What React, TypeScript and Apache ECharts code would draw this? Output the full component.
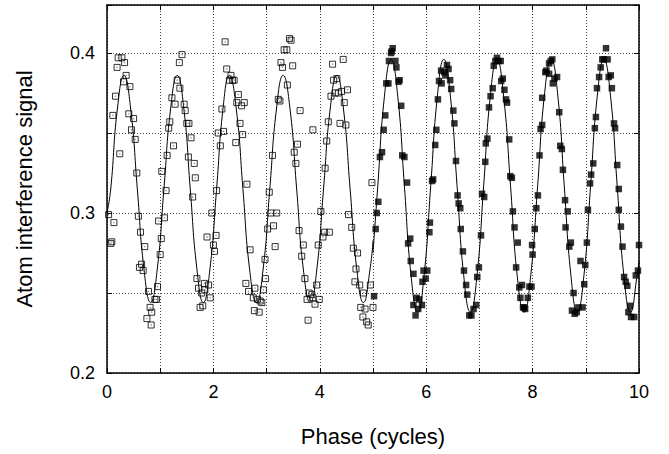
import React, { useEffect, useRef } from "react";
import * as echarts from "echarts";

// Axis settings / tick labels
const xTickLabels = [0, 2, 4, 6, 8, 10];
const yTickLabels = [0.2, 0.3, 0.4];

// Open squares: phase 0..5 (measured)
const openPoints: [number, number][] = [
  [0.03, 0.299], [0.13, 0.294], [0.07, 0.281], [0.09, 0.282],
  [0.11, 0.361], [0.16, 0.373], [0.19, 0.391], [0.21, 0.397], [0.24, 0.337], [0.28, 0.397], [0.31, 0.382], [0.33, 0.394], [0.36, 0.386], [0.41, 0.362], [0.43, 0.379], [0.46, 0.352], [0.5, 0.359], [0.53, 0.346], [0.56, 0.325],
  [0.59, 0.298], [0.61, 0.266], [0.63, 0.288], [0.65, 0.268], [0.68, 0.264], [0.71, 0.279], [0.75, 0.234], [0.78, 0.251], [0.81, 0.241], [0.83, 0.23], [0.84, 0.238], [0.9, 0.246], [0.93, 0.246], [0.95, 0.254], [0.97, 0.295], [1.0, 0.274], [1.02, 0.284], [1.08, 0.297],
  [1.03, 0.326], [1.11, 0.314], [1.13, 0.336], [1.16, 0.353], [1.18, 0.357], [1.22, 0.372], [1.25, 0.342], [1.28, 0.368], [1.32, 0.383], [1.36, 0.394], [1.37, 0.378], [1.41, 0.399], [1.45, 0.368], [1.47, 0.364], [1.5, 0.356], [1.53, 0.335], [1.54, 0.356], [1.58, 0.347], [1.61, 0.31], [1.64, 0.331], [1.66, 0.322],
  [1.69, 0.259], [1.72, 0.253], [1.75, 0.241], [1.78, 0.25], [1.8, 0.242], [1.83, 0.256], [1.84, 0.252], [1.88, 0.285], [1.91, 0.255], [1.94, 0.247], [1.97, 0.3], [2.0, 0.28], [2.02, 0.276], [2.05, 0.286],
  [2.06, 0.314], [2.09, 0.35], [2.13, 0.342], [2.16, 0.365], [2.19, 0.351], [2.22, 0.407], [2.25, 0.39], [2.3, 0.383], [2.33, 0.386], [2.36, 0.383], [2.39, 0.383], [2.42, 0.344], [2.44, 0.369], [2.47, 0.374], [2.5, 0.356], [2.53, 0.367], [2.55, 0.349], [2.58, 0.369], [2.63, 0.318],
  [2.61, 0.256], [2.66, 0.251], [2.69, 0.277], [2.75, 0.247], [2.77, 0.239], [2.78, 0.253], [2.83, 0.246], [2.86, 0.238], [2.88, 0.245], [2.91, 0.244], [2.94, 0.252], [2.97, 0.271], [2.98, 0.259], [3.02, 0.29], [3.08, 0.3], [3.13, 0.292], [3.16, 0.279], [3.19, 0.3],
  [3.05, 0.313], [3.11, 0.336], [3.22, 0.371], [3.25, 0.37], [3.27, 0.394], [3.3, 0.391], [3.33, 0.402], [3.38, 0.402], [3.39, 0.38], [3.43, 0.409], [3.46, 0.408], [3.49, 0.392], [3.52, 0.338], [3.55, 0.331], [3.58, 0.343], [3.63, 0.364], [3.87, 0.352],
  [3.61, 0.289], [3.66, 0.273], [3.69, 0.28], [3.72, 0.259], [3.76, 0.246], [3.78, 0.233], [3.8, 0.25], [3.85, 0.249], [3.87, 0.247], [3.91, 0.243], [3.94, 0.255], [3.97, 0.28], [3.99, 0.246], [4.02, 0.301], [4.06, 0.285], [4.09, 0.288], [4.18, 0.288],
  [4.1, 0.328], [4.13, 0.345], [4.16, 0.357], [4.21, 0.373], [4.24, 0.393], [4.26, 0.383], [4.29, 0.375], [4.32, 0.384], [4.35, 0.375], [4.38, 0.356], [4.41, 0.376], [4.44, 0.396], [4.46, 0.369], [4.49, 0.355], [4.52, 0.377], [4.98, 0.319],
  [4.54, 0.299], [4.6, 0.291], [4.63, 0.278], [4.66, 0.257], [4.68, 0.265], [4.71, 0.275], [4.75, 0.255], [4.77, 0.241], [4.81, 0.235], [4.82, 0.25], [4.85, 0.24], [4.88, 0.232], [4.91, 0.23], [4.95, 0.255], [5.0, 0.241],
];

// Filled squares: phase 5..10 (measured)
const filledPoints: [number, number][] = [
  [5.02, 0.248], [5.05, 0.29], [5.07, 0.3], [5.1, 0.307], [5.13, 0.335], [5.17, 0.338], [5.2, 0.352], [5.23, 0.361], [5.25, 0.381], [5.29, 0.381], [5.3, 0.395], [5.34, 0.4], [5.35, 0.401], [5.37, 0.403], [5.42, 0.395], [5.44, 0.391], [5.48, 0.382], [5.5, 0.383], [5.53, 0.367], [5.55, 0.336], [5.59, 0.335], [5.64, 0.319],
  [5.66, 0.281], [5.7, 0.284], [5.71, 0.27], [5.76, 0.262], [5.76, 0.2425], [5.8, 0.236], [5.82, 0.247], [5.85, 0.24], [5.87, 0.246], [5.92, 0.2425], [5.93, 0.257], [5.95, 0.264], [5.99, 0.259], [6.02, 0.264], [6.06, 0.288], [6.07, 0.294],
  [6.11, 0.32], [6.13, 0.321], [6.17, 0.3425], [6.19, 0.352], [6.22, 0.371], [6.24, 0.3825], [6.28, 0.389], [6.29, 0.381], [6.34, 0.388], [6.36, 0.386], [6.39, 0.3925], [6.42, 0.39], [6.45, 0.383], [6.47, 0.3775], [6.51, 0.364], [6.53, 0.356], [6.56, 0.3325], [6.59, 0.311],
  [6.61, 0.306], [6.64, 0.303], [6.65, 0.29], [6.69, 0.276], [6.71, 0.264], [6.75, 0.255], [6.77, 0.249], [6.81, 0.236], [6.85, 0.236], [6.89, 0.24], [6.94, 0.2425], [6.96, 0.26], [6.99, 0.266], [7.03, 0.286], [7.05, 0.312], [7.09, 0.31],
  [7.11, 0.332], [7.12, 0.3435], [7.15, 0.3465], [7.18, 0.366], [7.21, 0.373], [7.25, 0.378], [7.27, 0.392], [7.3, 0.395], [7.33, 0.397], [7.36, 0.395], [7.4, 0.395], [7.41, 0.3825], [7.44, 0.384], [7.47, 0.377], [7.5, 0.371], [7.52, 0.369], [7.56, 0.346], [7.58, 0.323], [7.61, 0.322],
  [7.63, 0.301], [7.66, 0.291], [7.69, 0.266], [7.72, 0.2815], [7.75, 0.2535], [7.77, 0.247], [7.8, 0.255], [7.82, 0.241], [7.84, 0.241], [7.86, 0.24], [7.91, 0.247], [7.94, 0.254], [7.98, 0.254], [7.99, 0.28], [8.0, 0.274], [8.04, 0.29], [8.07, 0.303], [8.1, 0.311],
  [8.13, 0.336], [8.15, 0.3525], [8.18, 0.355], [8.18, 0.372], [8.24, 0.388], [8.26, 0.389], [8.31, 0.3935], [8.31, 0.387], [8.34, 0.395], [8.37, 0.396], [8.38, 0.381], [8.41, 0.384], [8.46, 0.385], [8.5, 0.363], [8.52, 0.342], [8.55, 0.34], [8.57, 0.327], [8.61, 0.308],
  [8.62, 0.291], [8.66, 0.301], [8.69, 0.279], [8.72, 0.2815], [8.74, 0.239], [8.77, 0.25], [8.79, 0.237], [8.83, 0.238], [8.86, 0.241], [8.9, 0.27], [8.94, 0.241], [8.97, 0.2555], [8.99, 0.2675], [9.02, 0.2815], [9.04, 0.302],
  [9.08, 0.3185], [9.1, 0.324], [9.14, 0.331], [9.17, 0.353], [9.19, 0.36], [9.21, 0.378], [9.25, 0.385], [9.28, 0.391], [9.31, 0.396], [9.34, 0.396], [9.38, 0.403], [9.41, 0.396], [9.43, 0.385], [9.47, 0.386], [9.49, 0.378], [9.53, 0.356], [9.55, 0.353], [9.59, 0.33], [9.62, 0.315],
  [9.62, 0.302], [9.66, 0.2915], [9.69, 0.279], [9.72, 0.26], [9.75, 0.257], [9.78, 0.2545], [9.8, 0.238], [9.83, 0.242], [9.85, 0.235], [9.91, 0.235], [9.94, 0.261], [9.98, 0.264], [10.0, 0.28],
];

// Fit curve (phase 0..5)
const openFit: [number, number][] = [
  [0, 0.3], [0.07, 0.315], [0.195, 0.365], [0.32, 0.386], [0.445, 0.365], [0.57, 0.315], [0.695, 0.265], [0.82, 0.244], [0.945, 0.265],
  [1.07, 0.315], [1.195, 0.365], [1.32, 0.386], [1.445, 0.365], [1.565, 0.315], [1.69, 0.265], [1.81, 0.244], [1.935, 0.265],
  [2.06, 0.315], [2.18, 0.365], [2.3, 0.386], [2.43, 0.365], [2.555, 0.315], [2.68, 0.265], [2.81, 0.244], [2.935, 0.265],
  [3.06, 0.315], [3.185, 0.365], [3.31, 0.386], [3.44, 0.365], [3.565, 0.315], [3.69, 0.265], [3.82, 0.244], [3.945, 0.265],
  [4.07, 0.315], [4.195, 0.365], [4.32, 0.386], [4.445, 0.365], [4.57, 0.315], [4.695, 0.265], [4.82, 0.244], [4.945, 0.265], [5.0, 0.283],
];

// Fit curve (phase 5..10)
const filledFit: [number, number][] = [
  [5.0, 0.275], [5.09, 0.317], [5.215, 0.373], [5.34, 0.396], [5.465, 0.373], [5.59, 0.317], [5.715, 0.261], [5.84, 0.238], [5.96, 0.261],
  [6.085, 0.317], [6.21, 0.373], [6.33, 0.396], [6.455, 0.373], [6.58, 0.317], [6.705, 0.261], [6.83, 0.238], [6.955, 0.261],
  [7.08, 0.317], [7.205, 0.373], [7.33, 0.396], [7.455, 0.373], [7.585, 0.317], [7.71, 0.261], [7.84, 0.238], [7.965, 0.261],
  [8.095, 0.317], [8.22, 0.373], [8.35, 0.396], [8.475, 0.373], [8.595, 0.317], [8.72, 0.261], [8.84, 0.238], [8.965, 0.261],
  [9.09, 0.317], [9.215, 0.373], [9.34, 0.396], [9.465, 0.373], [9.59, 0.317], [9.715, 0.261], [9.84, 0.238], [9.965, 0.261], [10.0, 0.27],
];

const FONT = "'Liberation Sans', Arial, Helvetica, sans-serif";

export default function App() {
  const ref = useRef<HTMLDivElement>(null);

  useEffect(() => {
    if (!ref.current) return;
    const chart = echarts.init(ref.current, null, { renderer: "svg" });

    const axisLine = { show: true, onZero: false, lineStyle: { color: "#000", width: 1.5 } };
    const axisTick = { show: true, inside: true, length: 5, lineStyle: { color: "#000", width: 1 } };
    const splitLine = { show: true, lineStyle: { color: "#444", width: 1, type: [1, 2] as any } };

    const xFmt = (v: number) => (xTickLabels.some((t) => Math.abs(t - v) < 1e-6) ? String(v) : "");
    const yFmt = (v: number) => {
      const hit = yTickLabels.find((t) => Math.abs(t - v) < 1e-6);
      return hit !== undefined ? hit.toFixed(1) : "";
    };

    chart.setOption({
      animation: false,
      backgroundColor: "#fff",
      grid: { left: 107, right: 30, top: 5, bottom: 81, containLabel: false },
      xAxis: [
        {
          type: "value", min: 0, max: 10, interval: 1, position: "bottom",
          axisLine, axisTick, splitLine,
          axisLabel: { formatter: xFmt, color: "#000", fontSize: 18, fontFamily: FONT, margin: 10 },
          name: "Phase (cycles)", nameLocation: "middle", nameGap: 52,
          nameTextStyle: { color: "#000", fontSize: 22, fontFamily: FONT },
        },
        {
          type: "value", min: 0, max: 10, interval: 1, position: "top",
          axisLine, axisTick, splitLine: { show: false }, axisLabel: { show: false },
        },
      ],
      yAxis: [
        {
          type: "value", min: 0.2, max: 0.43, interval: 0.05, position: "left",
          axisLine, axisTick, splitLine,
          axisLabel: { formatter: yFmt, color: "#000", fontSize: 18, fontFamily: FONT, margin: 12 },
          name: "Atom interference signal", nameLocation: "middle", nameGap: 72,
          nameTextStyle: { color: "#000", fontSize: 22, fontFamily: FONT },
        },
        {
          type: "value", min: 0.2, max: 0.43, interval: 0.05, position: "right",
          axisLine, axisTick, splitLine: { show: false }, axisLabel: { show: false },
        },
      ],
      series: [
        {
          type: "line", data: openFit, smooth: 0.5, showSymbol: false, silent: true,
          lineStyle: { color: "#000", width: 1 }, z: 2,
        },
        {
          type: "line", data: filledFit, smooth: 0.5, showSymbol: false, silent: true,
          lineStyle: { color: "#000", width: 1 }, z: 2,
        },
        {
          type: "scatter", data: openPoints, symbol: "rect", symbolSize: 6,
          itemStyle: { color: "rgba(0,0,0,0)", borderColor: "#000", borderWidth: 1 }, z: 3,
        },
        {
          type: "scatter", data: openPoints, symbol: "rect", symbolSize: 1.3,
          itemStyle: { color: "#666" }, z: 3,
        },
        {
          type: "scatter", data: filledPoints, symbol: "rect", symbolSize: 6.5,
          itemStyle: { color: "#000" }, z: 3,
        },
      ],
    });

    return () => chart.dispose();
  }, []);

  return (
    <div
      ref={ref}
      style={{ position: "fixed", left: 0, top: 0, width: 669, height: 454, background: "#fff" }}
    />
  );
}
